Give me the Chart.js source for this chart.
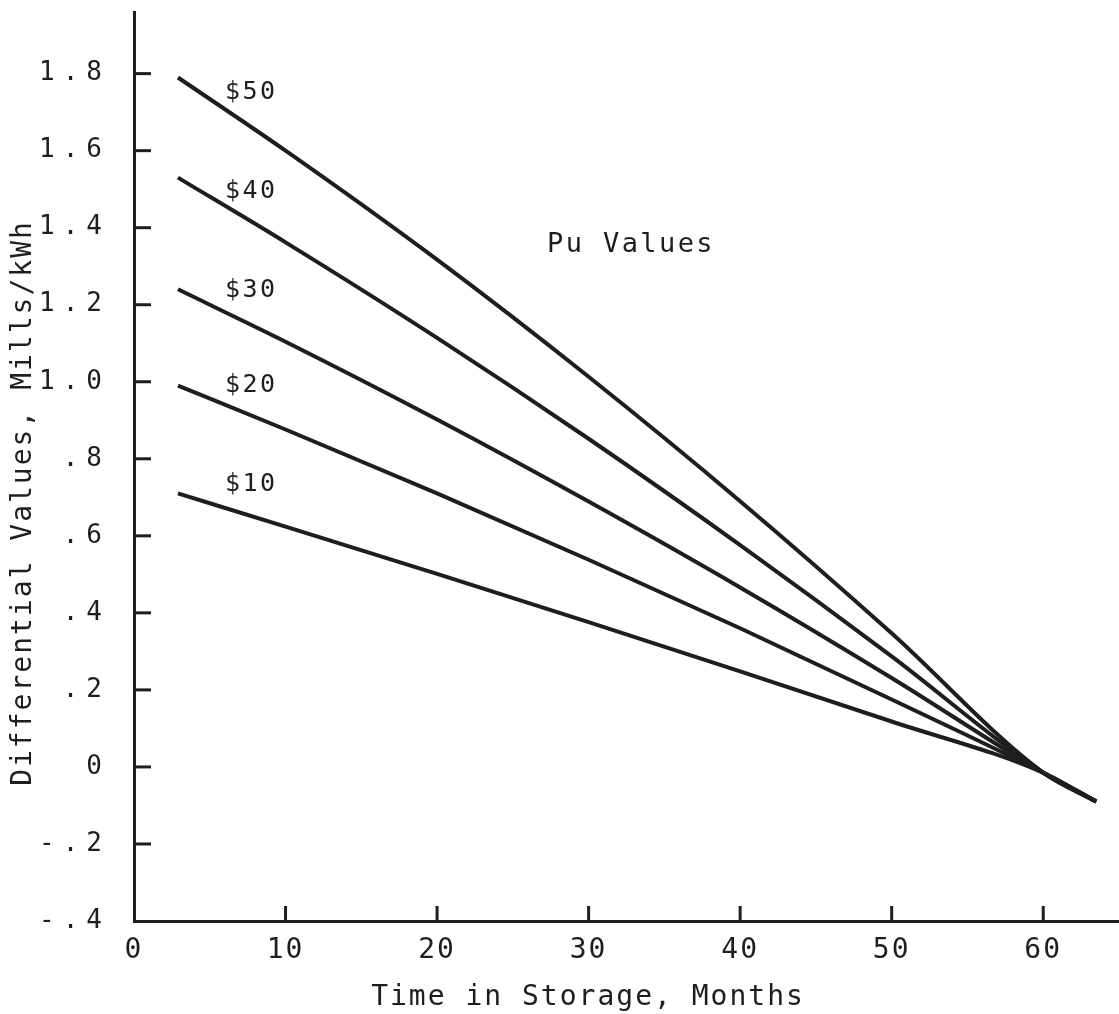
<!DOCTYPE html>
<html><head><meta charset="utf-8">
<script src="https://cdn.jsdelivr.net/npm/chart.js@4.4.1/dist/chart.umd.min.js"></script>
<style>html,body{margin:0;padding:0;background:#fff;}canvas{display:block;}</style>
</head><body>
<canvas id="c" width="1119" height="1014" style="width:1119px;height:1014px"></canvas>
<script>
// ---- data ----
const months = [2.9, 10, 20, 30, 40, 50, 60, 63.5];
const pu50 = [1.79, 1.600, 1.317, 1.013, 0.690, 0.347, -0.015, -0.09];
const pu40 = [1.53, 1.362, 1.114, 0.852, 0.576, 0.287, -0.015, -0.09];
const pu30 = [1.24, 1.104, 0.902, 0.689, 0.466, 0.231, -0.015, -0.09];
const pu20 = [0.99, 0.876, 0.710, 0.538, 0.360, 0.175, -0.015, -0.09];
const pu10 = [0.71, 0.624, 0.501, 0.376, 0.248, 0.118, -0.015, -0.09];
const seriesNames = ['$50', '$40', '$30', '$20', '$10'];
const seriesValues = [pu50, pu40, pu30, pu20, pu10];
const seriesLabelX = 6.0;
const seriesLabelY = [1.75, 1.495, 1.236, 0.99, 0.733];
const xTickValues = [0, 10, 20, 30, 40, 50, 60];
const yTickValues = [1.8, 1.6, 1.4, 1.2, 1.0, 0.8, 0.6, 0.4, 0.2, 0, -0.2, -0.4];
const yTickLabels = ['1.8', '1.6', '1.4', '1.2', '1.0', '.8', '.6', '.4', '.2', '0', '-.2', '-.4'];
const xTitle = 'Time in Storage, Months';
const yTitle = 'Differential Values, Mills/kWh';
const noteText = 'Pu Values';
const noteX = 32.8, noteY = 1.355;
const xMin = 0, xMax = 65, yMin = -0.4, yMax = 1.96;

const INK = '#1e1e1e';
const MONO = '"DejaVu Sans Mono", "Liberation Mono", monospace';

const datasets = seriesValues.map((vals, i) => ({
  label: seriesNames[i],
  data: months.map((m, j) => ({ x: m, y: vals[j] })),
  borderColor: INK,
  borderWidth: 4,
  pointRadius: 0,
  fill: false,
  cubicInterpolationMode: 'monotone'
}));

const decor = {
  id: 'decor',
  beforeLayout(chart) { chart.ctx.letterSpacing = '2px'; },
  beforeDraw(chart) {
    const c = chart.ctx;
    c.save(); c.fillStyle = '#fff'; c.fillRect(0, 0, chart.width, chart.height); c.restore();
    c.letterSpacing = '2px';
  },
  afterDraw(chart) {
    const ctx = chart.ctx, xs = chart.scales.x, ys = chart.scales.y, a = chart.chartArea;
    ctx.save();
    ctx.strokeStyle = INK; ctx.lineWidth = 3; ctx.lineCap = 'butt';
    yTickValues.forEach(v => {
      if (v === yMin) return;
      const p = ys.getPixelForValue(v);
      ctx.beginPath(); ctx.moveTo(a.left, p); ctx.lineTo(a.left + 17, p); ctx.stroke();
    });
    xTickValues.forEach(v => {
      if (v === xMin) return;
      const p = xs.getPixelForValue(v);
      ctx.beginPath(); ctx.moveTo(p, a.bottom); ctx.lineTo(p, a.bottom - 15); ctx.stroke();
    });
    ctx.fillStyle = INK;
    // y tick labels
    ctx.font = '26px ' + MONO; ctx.textAlign = 'right'; ctx.textBaseline = 'middle';
    ctx.letterSpacing = '8px';
    yTickValues.forEach((v, i) => ctx.fillText(yTickLabels[i], 102 + 8, ys.getPixelForValue(v)));
    // series labels
    ctx.font = '25px ' + MONO; ctx.textAlign = 'left'; ctx.letterSpacing = '2.5px';
    seriesNames.forEach((n, i) => ctx.fillText(n, xs.getPixelForValue(seriesLabelX), ys.getPixelForValue(seriesLabelY[i])));
    // note
    ctx.font = '27px ' + MONO; ctx.textAlign = 'center'; ctx.letterSpacing = '2.4px';
    ctx.fillText(noteText, xs.getPixelForValue(noteX), ys.getPixelForValue(noteY));
    // axis titles
    ctx.font = '28px ' + MONO; ctx.letterSpacing = '2px';
    ctx.fillText(xTitle, 588, 998);
    ctx.save();
    ctx.translate(24, 503); ctx.rotate(-Math.PI / 2);
    ctx.fillText(yTitle, 0, 0);
    ctx.restore();
    ctx.restore();
  }
};

new Chart(document.getElementById('c'), {
  type: 'line',
  data: { datasets },
  options: {
    responsive: false,
    animation: false,
    events: [],
    layout: { padding: { top: 12, left: 0, right: 0, bottom: 0 } },
    plugins: { legend: { display: false }, tooltip: { enabled: false }, title: { display: false } },
    scales: {
      x: {
        type: 'linear', min: xMin, max: xMax,
        afterBuildTicks: s => { s.ticks = xTickValues.map(v => ({ value: v })); },
        afterFit: s => { s.height = 93; },
        grid: { display: false, drawTicks: false },
        border: { display: true, width: 3, color: INK },
        ticks: { color: INK, font: { family: MONO, size: 28 }, padding: 13, maxRotation: 0, autoSkip: false,
                 callback: v => String(v) }
      },
      y: {
        type: 'linear', min: yMin, max: yMax,
        afterBuildTicks: s => { s.ticks = yTickValues.map(v => ({ value: v })); },
        afterFit: s => { s.width = 134; },
        grid: { display: false, drawTicks: false },
        border: { display: true, width: 3, color: INK },
        ticks: { display: false }
      }
    }
  },
  plugins: [decor]
});
</script>
</body></html>
